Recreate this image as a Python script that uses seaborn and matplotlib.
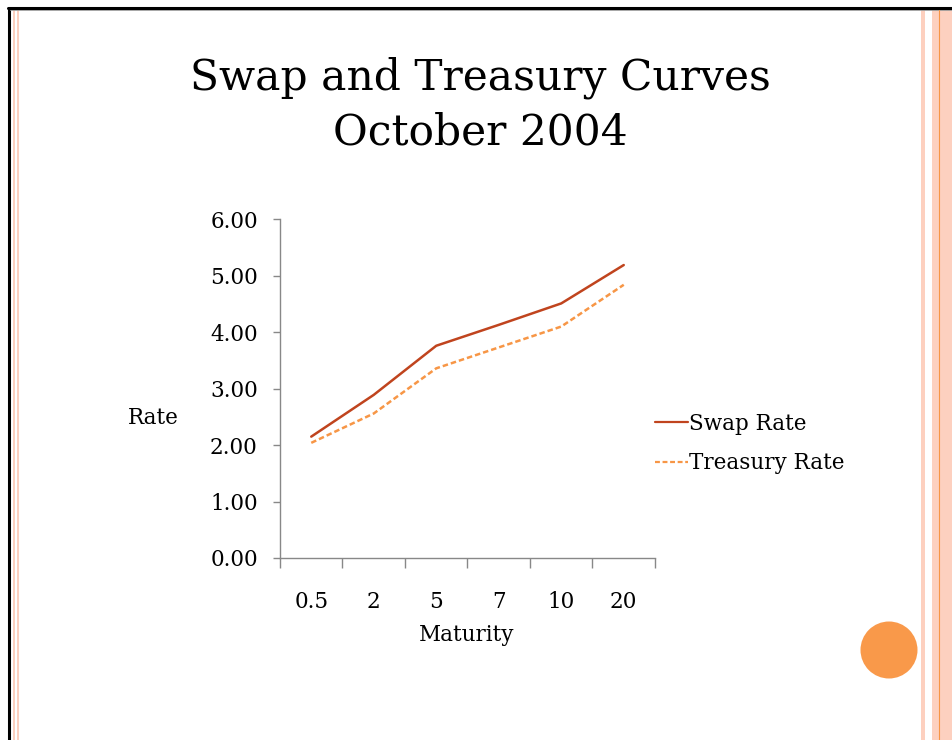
import pandas as pd
import matplotlib.pyplot as plt
import matplotlib.patches as patches
import seaborn as sns

# Data
maturities = ["0.5", "2", "5", "7", "10", "20"]
swap_rate = [2.15, 2.89, 3.76, 4.13, 4.51, 5.19]
treasury_rate = [2.04, 2.56, 3.36, 3.73, 4.10, 4.84]

SWAP_COLOR = "#C0441E"
TREASURY_COLOR = "#F79646"
STRIPE = "#FDD0BF"

df = pd.DataFrame({
    "Maturity": maturities * 2,
    "Rate": swap_rate + treasury_rate,
    "Series": ["Swap Rate"] * len(maturities) + ["Treasury Rate"] * len(maturities),
})
df["pos"] = list(range(len(maturities))) * 2

sns.set_style("white")
plt.rcParams["font.family"] = ["DejaVu Serif"]
plt.rcParams["text.color"] = "black"
plt.rcParams["xtick.color"] = "black"
plt.rcParams["ytick.color"] = "black"
plt.rcParams["axes.labelcolor"] = "black"

fig = plt.figure(figsize=(9.53, 7.40), dpi=100)

# slide decoration
deco = fig.add_axes([0, 0, 1, 1])
deco.set_xlim(0, 953)
deco.set_ylim(740, 0)
deco.axis("off")
deco.plot([9, 9], [8, 740], color="black", lw=2.2)
deco.plot([8, 953], [8, 8], color="black", lw=2.2)
deco.plot([10, 953], [10, 10], color="#999999", lw=0.6)
for x0, w in [(13, 2.2), (17, 2.2), (921, 4), (932, 21)]:
    deco.add_patch(patches.Rectangle((x0, 10), w, 730, color=STRIPE, lw=0))
deco.plot([939, 939], [10, 740], color="#F79646", lw=0.8)
deco.add_patch(patches.Circle((889, 650), 28.5, color="#F9994A", lw=0))

fig.text(0.504, 1 - 105 / 740, "Swap and Treasury Curves\nOctober 2004", ha="center", va="center",
         fontsize=30.5, linespacing=1.4, color="black")

ax = fig.add_axes([280 / 953, 1 - 558 / 740, 375 / 953, (558 - 219.3) / 740])
sns.lineplot(data=df, x="pos", y="Rate", hue="Series", style="Series",
             palette={"Swap Rate": SWAP_COLOR, "Treasury Rate": TREASURY_COLOR},
             dashes={"Swap Rate": "", "Treasury Rate": (2.2, 1.2)},
             linewidth=1.8, ax=ax)

ax.set_ylim(0, 6)
ax.set_xlim(-0.5, len(maturities) - 0.5)
ax.set_yticks([0, 1, 2, 3, 4, 5, 6])
ax.set_yticklabels([f"{v:.2f}" for v in range(7)], fontsize=15.5)
ax.set_xticks([i - 0.5 for i in range(len(maturities) + 1)])
ax.set_xticklabels([])
ax.set_xticks(range(len(maturities)), minor=True)
ax.set_xticklabels(maturities, minor=True, fontsize=15.5)
ax.tick_params(axis="x", which="major", bottom=True, direction="out", length=7, width=1, color="#888888")
ax.tick_params(axis="x", which="minor", bottom=True, length=0, pad=24)
ax.tick_params(axis="y", left=True, direction="out", length=5, width=1, color="#888888", pad=11)
sns.despine(ax=ax)
for s in ["left", "bottom"]:
    ax.spines[s].set_color("#888888")
    ax.spines[s].set_linewidth(1)

ax.set_xlabel("Maturity", fontsize=15.5, va="center")
ax.xaxis.set_label_coords((467 - 280) / 375, -(635 - 558) / (558 - 219.3))
ax.set_ylabel("Rate", fontsize=15.5, rotation=0, va="center", ha="center")
ax.yaxis.set_label_coords(-(280 - 153) / 375, (558 - 418) / (558 - 219.3))

leg = ax.legend(loc="center left", bbox_to_anchor=(1.0, (558 - 443.5) / (558 - 219.3)), frameon=False,
                fontsize=15.5, handlelength=1.55, handletextpad=0.05, labelspacing=0.8,
                borderaxespad=0, borderpad=0)
for line in leg.get_lines():
    line.set_linewidth(1.6)

fig.savefig("out.png", dpi=100)
